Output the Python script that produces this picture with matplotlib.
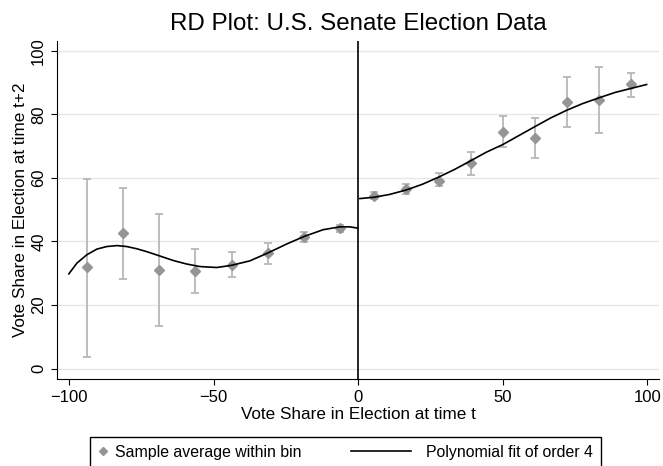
import matplotlib
matplotlib.use('Agg')
import matplotlib.pyplot as plt
from matplotlib.lines import Line2D
from matplotlib.legend_handler import HandlerLine2D

plt.rcParams['font.family'] = ['Liberation Sans', 'DejaVu Sans']

# binned sample averages, left of cutoff
left_x = [-93.75, -81.25, -68.75, -56.25, -43.75, -31.25, -18.75, -6.25]
left_y = [31.9, 42.6, 31.0, 30.7, 32.6, 36.3, 41.4, 44.1]
left_lo = [3.7, 28.3, 13.5, 23.8, 28.7, 32.9, 39.7, 43.0]
left_hi = [59.8, 56.7, 48.6, 37.6, 36.7, 39.5, 43.1, 45.1]

# binned sample averages, right of cutoff
right_x = [5.56, 16.67, 27.78, 38.89, 50.0, 61.11, 72.22, 83.33, 94.44]
right_y = [54.4, 56.5, 59.1, 64.7, 74.6, 72.6, 83.9, 84.4, 89.5]
right_lo = [53.4, 54.8, 57.3, 61.0, 69.7, 66.4, 75.9, 74.0, 85.4]
right_hi = [55.5, 58.2, 61.4, 68.3, 79.6, 78.9, 91.8, 94.8, 93.1]

# polynomial fit (order 4)
fit_left_x = [-100, -97.2, -93.8, -90.3, -86.9, -83.4, -80.0, -76.5, -73.1,
              -68.8, -63.9, -59.3, -54.7, -48.9, -46.6, -43.7, -37.4, -31.4,
              -24.7, -18.6, -12.1, -6.3, -2.9, -0.2]
fit_left_y = [29.8, 33.2, 35.8, 37.6, 38.4, 38.7, 38.4, 37.7, 36.8,
              35.5, 34.0, 32.9, 32.1, 31.8, 32.1, 32.5, 33.9, 36.3,
              39.2, 41.6, 43.7, 44.6, 44.6, 44.2]
fit_right_x = [0.6, 5.4, 10.9, 16.6, 22.2, 27.7, 33.4, 38.9, 44.3, 50.0,
               55.5, 61.0, 66.6, 72.1, 77.6, 83.2, 88.8, 94.4, 99.7]
fit_right_y = [53.5, 53.9, 54.8, 56.2, 58.0, 60.2, 62.7, 65.4, 68.1, 70.5,
               73.3, 76.1, 78.9, 81.3, 83.4, 85.2, 86.9, 88.2, 89.4]

yticks = [0, 20, 40, 60, 80, 100]
xticks = [-100, -50, 0, 50, 100]
legend_labels = ['Sample average within bin', 'Polynomial fit of order 4']


class MarkerLeft(HandlerLine2D):
    # marker sits at the very left of its handle box (Stata style)
    def get_xdata(self, legend, xdescent, ydescent, width, height, fontsize):
        xdata = [-xdescent, width - xdescent]
        return xdata, [-xdescent + 0.17 * fontsize]


class LongLine(HandlerLine2D):
    # line sample reaches back into the column gap
    def get_xdata(self, legend, xdescent, ydescent, width, height, fontsize):
        xdata = [-xdescent - 3.67 * fontsize, -xdescent + 0.13 * fontsize]
        return xdata, xdata


fig = plt.figure(figsize=(6.63, 4.66), dpi=100)
ax = fig.add_axes([0.0864, 0.186, 0.9076, 0.7267])

marker_col = '#959595'
err_col = '#b8b8b8'

for xs, ys, lo, hi in [(left_x, left_y, left_lo, left_hi),
                       (right_x, right_y, right_lo, right_hi)]:
    yerr = [[y - l for y, l in zip(ys, lo)], [h - y for y, h in zip(ys, hi)]]
    ax.errorbar(xs, ys, yerr=yerr, fmt='none', ecolor=err_col,
                elinewidth=1.3, capsize=3, capthick=1.3, zorder=2)
    ax.plot(xs, ys, 'D', color=marker_col, markersize=5, zorder=3)

ax.plot(fit_left_x, fit_left_y, color='black', lw=1.2, zorder=4)
ax.plot(fit_right_x, fit_right_y, color='black', lw=1.2, zorder=4)
ax.axvline(0, color='black', lw=1.2, zorder=4)

ax.set_xlim(-104, 104)
ax.set_ylim(-3.4, 103.2)
ax.set_yticks(yticks)
ax.set_xticks(xticks)
ax.grid(axis='y', color='#e6e6e6', lw=1)
ax.set_axisbelow(True)
for s in ['top', 'right']:
    ax.spines[s].set_visible(False)
ax.tick_params(labelsize=12, length=4.5)
ax.tick_params(axis='y', labelrotation=90)
for lab in ax.get_yticklabels():
    lab.set_va('center')

ax.set_title('RD Plot: U.S. Senate Election Data', fontsize=17.4, pad=7.5)
ax.set_xlabel('Vote Share in Election at time t', fontsize=12.3, labelpad=1)
ax.set_ylabel('Vote Share in Election at time t+2', fontsize=12.3, labelpad=2)

h_marker = Line2D([], [], ls='none', marker='D', color=marker_col, markersize=3.6)
h_line = Line2D([], [], color='black', lw=1.2)
fig.legend([h_marker, h_line], legend_labels,
           handler_map={h_marker: MarkerLeft(numpoints=1), h_line: LongLine()},
           loc='upper left', bbox_to_anchor=(90.2 / 663, 1 - 436.7 / 466),
           ncol=2, fontsize=11.4, frameon=True, fancybox=False,
           edgecolor='black', framealpha=1, handlelength=0.576,
           handletextpad=0.5, columnspacing=6.8, borderpad=0.5,
           borderaxespad=0)

fig.savefig('out.png', dpi=100)
